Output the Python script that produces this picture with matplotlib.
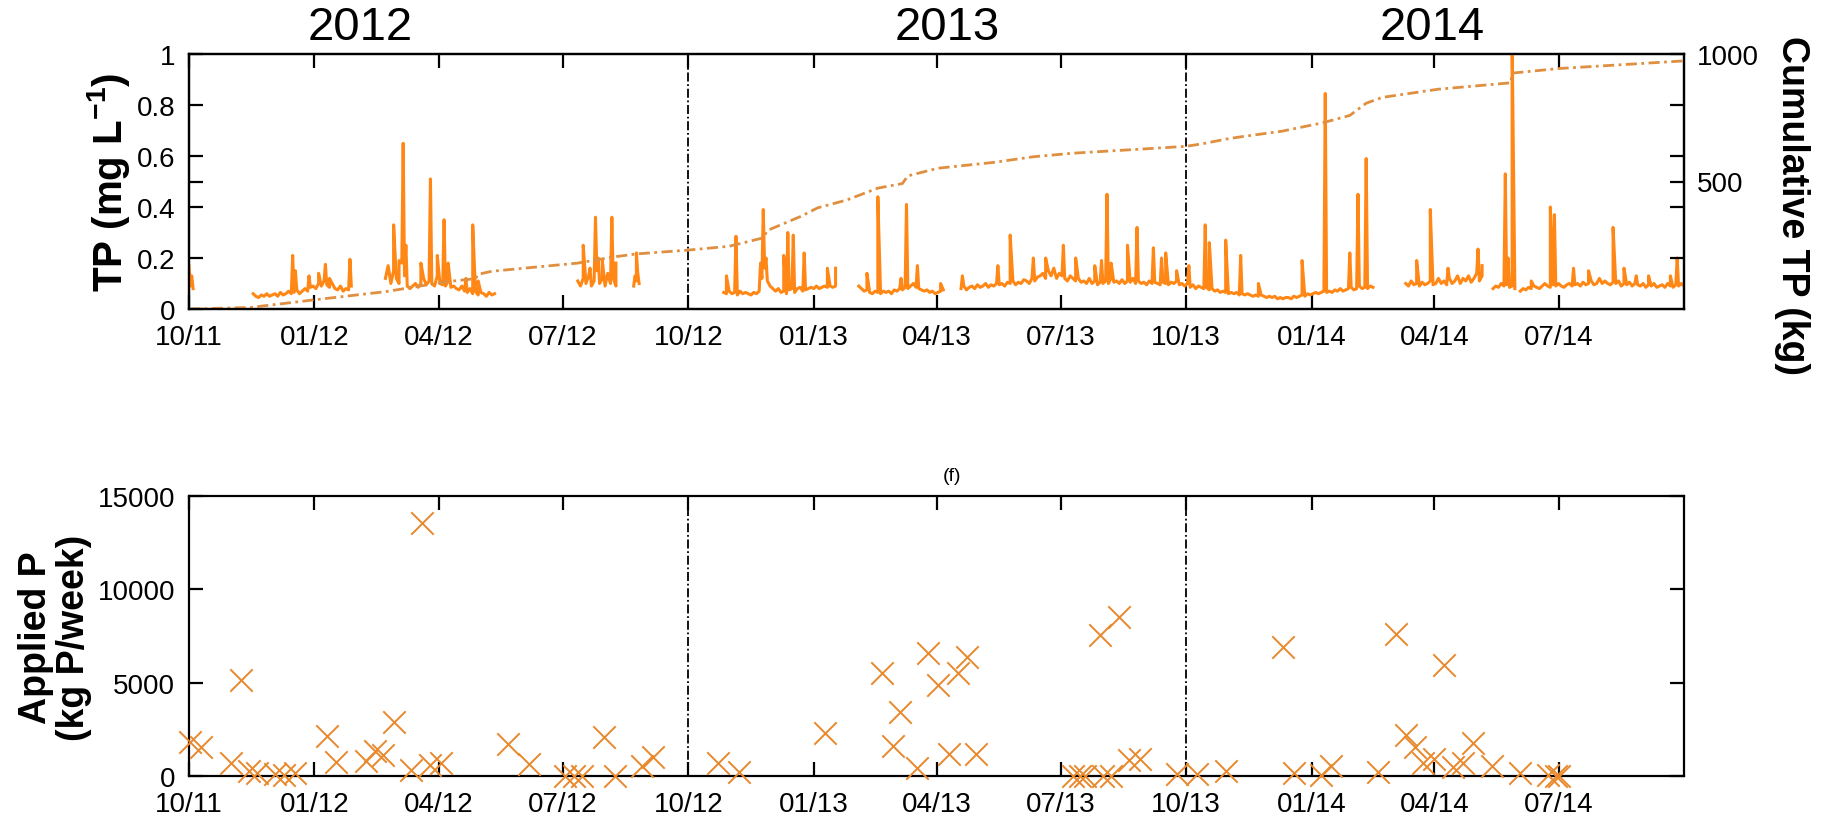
import matplotlib
matplotlib.use('Agg')
import matplotlib.pyplot as plt
import pandas as pd

plt.rcParams['font.family'] = ['Liberation Sans', 'DejaVu Sans']
plt.rcParams['mathtext.fontset'] = 'custom'
plt.rcParams['mathtext.bf'] = 'Liberation Sans:bold'
plt.rcParams['mathtext.rm'] = 'Liberation Sans:bold'

# ---------------- TP concentration (mg/L): baseline segments ----------------
tp_a = [0.17, 0.09, 0.13, 0.08]
tp_b = [0.06, 0.05, 0.045, 0.055, 0.05, 0.06, 0.05, 0.055, 0.06, 0.05,
        0.065, 0.055, 0.06, 0.07, 0.06, 0.065, 0.075, 0.06, 0.07, 0.08,
        0.07, 0.085, 0.09, 0.08, 0.1, 0.09, 0.11, 0.095, 0.085, 0.1,
        0.08, 0.075, 0.09, 0.07, 0.08, 0.075, 0.09]
tp_c = [0.12, 0.17, 0.1, 0.15, 0.12, 0.1, 0.18, 0.13, 0.09, 0.08,
        0.09, 0.1, 0.085, 0.1, 0.12, 0.095, 0.11, 0.1, 0.09, 0.13,
        0.1, 0.095, 0.09, 0.11, 0.085, 0.09, 0.08, 0.075, 0.09, 0.07,
        0.065, 0.08, 0.06, 0.07, 0.055, 0.065, 0.06, 0.05, 0.065, 0.055,
        0.06]
tp_d = [0.11, 0.09, 0.12, 0.1, 0.13, 0.09, 0.11, 0.15, 0.1, 0.12,
        0.09, 0.14, 0.1, 0.12, 0.09]
tp_e = [0.09, 0.13, 0.11, 0.14, 0.1]
tp_f = [0.065, 0.06, 0.07, 0.06, 0.065, 0.055, 0.07, 0.06, 0.065, 0.06,
        0.055, 0.065, 0.06, 0.07, 0.12, 0.16, 0.11, 0.09, 0.08, 0.07,
        0.08, 0.065, 0.07, 0.06, 0.075, 0.08, 0.065, 0.08, 0.085, 0.07,
        0.075, 0.08, 0.085, 0.08, 0.09, 0.08, 0.085, 0.09, 0.085, 0.09,
        0.085, 0.09]
tp_g = [0.09, 0.08, 0.07, 0.075, 0.065, 0.06, 0.07, 0.065, 0.06, 0.07,
        0.065, 0.07, 0.06, 0.075, 0.07, 0.08, 0.075, 0.085, 0.08, 0.09,
        0.1, 0.085, 0.08, 0.075, 0.07, 0.075, 0.065, 0.07, 0.06, 0.065,
        0.07, 0.075]
tp_h = [0.08, 0.09, 0.075, 0.085, 0.09, 0.08, 0.095, 0.085, 0.09, 0.1, 0.085, 0.095, 0.09, 0.1, 0.095,
        0.1, 0.09, 0.105, 0.1, 0.11, 0.095, 0.105, 0.1, 0.115, 0.11, 0.1, 0.12, 0.11, 0.125, 0.13,
        0.14, 0.12, 0.15, 0.13, 0.16, 0.12, 0.14, 0.13, 0.12, 0.11, 0.13, 0.12, 0.11, 0.12, 0.105,
        0.11, 0.1, 0.12, 0.1, 0.11, 0.095, 0.105, 0.1, 0.11, 0.1, 0.12, 0.105, 0.11, 0.1, 0.115,
        0.1, 0.11, 0.105, 0.12, 0.1, 0.11, 0.1, 0.105, 0.095, 0.11, 0.1, 0.105, 0.1, 0.095, 0.105,
        0.1, 0.095, 0.105, 0.1, 0.11, 0.095, 0.1, 0.09, 0.1, 0.085, 0.095, 0.08, 0.09, 0.085, 0.08,
        0.085, 0.075, 0.08, 0.07, 0.075, 0.065, 0.07, 0.065, 0.06, 0.065, 0.06, 0.065, 0.055, 0.06, 0.055,
        0.06, 0.055, 0.05, 0.055, 0.05, 0.055, 0.05, 0.045, 0.05, 0.045, 0.05, 0.04, 0.045, 0.04, 0.045,
        0.045, 0.04, 0.05, 0.045, 0.05, 0.055, 0.05, 0.06, 0.055, 0.06, 0.065, 0.06, 0.065, 0.07, 0.065,
        0.07, 0.065, 0.075, 0.07, 0.08, 0.07, 0.075, 0.08, 0.085, 0.075, 0.08, 0.09, 0.08, 0.085, 0.08,
        0.09, 0.085]
tp_i = [0.1, 0.09, 0.11, 0.095, 0.1, 0.09, 0.105, 0.095, 0.1, 0.11,
        0.095, 0.1, 0.12, 0.1, 0.11, 0.095, 0.12, 0.1, 0.11, 0.13,
        0.1, 0.12, 0.11, 0.13, 0.105, 0.12, 0.14, 0.11, 0.13]
tp_j = [0.08, 0.09, 0.085, 0.1, 0.09, 0.095, 0.085, 0.09, 0.08]
tp_k = [0.07, 0.08, 0.075, 0.085, 0.08, 0.09, 0.085, 0.08, 0.09, 0.1,
        0.09, 0.085, 0.095, 0.09, 0.1, 0.09, 0.085, 0.095, 0.1, 0.09,
        0.095, 0.1, 0.09, 0.105, 0.095, 0.1, 0.11, 0.095, 0.1, 0.12,
        0.1, 0.11, 0.1, 0.095, 0.105, 0.1, 0.11, 0.09, 0.1, 0.095,
        0.105, 0.09, 0.1, 0.095, 0.09, 0.1, 0.085, 0.095, 0.09, 0.1,
        0.085, 0.09, 0.095, 0.085, 0.1, 0.09, 0.085, 0.095, 0.09, 0.1,
        0.09]
seg_starts = ['2011-10-01', '2011-11-17', '2012-02-22', '2012-07-12', '2012-08-22',
              '2012-10-27', '2013-02-03', '2013-04-19', '2014-03-11', '2014-05-14',
              '2014-06-03']
seg_steps = [1, 2, 2, 2, 1, 2, 2, 2, 2, 2, 2]
seg_values = [tp_a, tp_b, tp_c, tp_d, tp_e, tp_f, tp_g, tp_h, tp_i, tp_j, tp_k]

# storm peaks (mg/L)
peak_dates = ['2011-12-16', '2011-12-18', '2011-12-28', '2012-01-04', '2012-01-09', '2012-01-12', '2012-01-27',
              '2012-02-28', '2012-03-03', '2012-03-06', '2012-03-08', '2012-03-19', '2012-03-26', '2012-03-31',
              '2012-04-05', '2012-04-08', '2012-04-21', '2012-04-26', '2012-04-30',
              '2012-07-16', '2012-07-21', '2012-07-25', '2012-07-27', '2012-07-30', '2012-08-06', '2012-08-09',
              '2012-08-24',
              '2012-10-29', '2012-11-05', '2012-11-23', '2012-11-25', '2012-11-27', '2012-12-10', '2012-12-13',
              '2012-12-17', '2012-12-25', '2013-01-11', '2013-01-17',
              '2013-02-09', '2013-02-17', '2013-03-06', '2013-03-10', '2013-03-18', '2013-04-04',
              '2013-04-20', '2013-05-16', '2013-05-25', '2013-06-11', '2013-06-20', '2013-07-03', '2013-07-12',
              '2013-07-26', '2013-07-31', '2013-08-04', '2013-08-07', '2013-08-19', '2013-08-26', '2013-09-07',
              '2013-09-13', '2013-09-16', '2013-09-24', '2013-10-03', '2013-10-15', '2013-10-18', '2013-10-30',
              '2013-11-10', '2013-11-23', '2013-12-25', '2014-01-11', '2014-01-29', '2014-02-04', '2014-02-10',
              '2014-03-19', '2014-03-29', '2014-04-11', '2014-05-03', '2014-05-06',
              '2014-05-23', '2014-05-25', '2014-05-28',
              '2014-06-11', '2014-06-25', '2014-06-28', '2014-07-12', '2014-07-23', '2014-08-10', '2014-08-18',
              '2014-08-27', '2014-09-05', '2014-09-21', '2014-09-26']
peak_values = [0.21, 0.15, 0.13, 0.14, 0.175, 0.12, 0.195,
               0.33, 0.19, 0.65, 0.25, 0.18, 0.51, 0.21,
               0.35, 0.18, 0.12, 0.33, 0.11,
               0.25, 0.16, 0.36, 0.2, 0.19, 0.36, 0.18,
               0.22,
               0.13, 0.285, 0.18, 0.39, 0.2, 0.21, 0.30,
               0.29, 0.22, 0.16, 0.16,
               0.14, 0.44, 0.12, 0.41, 0.17, 0.1,
               0.13, 0.17, 0.29, 0.2, 0.2, 0.25, 0.2,
               0.17, 0.19, 0.45, 0.18, 0.25, 0.32, 0.24,
               0.2, 0.22, 0.15, 0.17, 0.33, 0.26, 0.27,
               0.21, 0.1, 0.19, 0.845, 0.22, 0.45, 0.59,
               0.19, 0.39, 0.16, 0.235, 0.17,
               0.53, 0.2, 1.05,
               0.11, 0.40, 0.37, 0.16, 0.15, 0.32, 0.16,
               0.13, 0.13, 0.13, 0.2]

# ---------------- cumulative TP (kg) ----------------
cum_dates = ['2011-10-01', '2011-11-15', '2012-01-01', '2012-02-22', '2012-04-07', '2012-04-28',
             '2012-04-30', '2012-05-10', '2012-07-12', '2012-08-07', '2012-08-24', '2012-10-01',
             '2012-10-31', '2012-11-25', '2012-11-28', '2012-12-22', '2013-01-04', '2013-01-25',
             '2013-02-17', '2013-03-07', '2013-03-11', '2013-04-02', '2013-05-13', '2013-06-11',
             '2013-07-10', '2013-09-04', '2013-10-01', '2013-10-13', '2013-10-31', '2013-11-11',
             '2013-12-10', '2014-01-09', '2014-01-29', '2014-02-10', '2014-02-22', '2014-04-04',
             '2014-05-27', '2014-05-28', '2014-07-01', '2014-10-01']
cum_values = [0, 6, 36, 68, 107, 119,
              136, 148, 180, 204, 216, 231,
              246, 279, 308, 362, 397, 427,
              474, 492, 522, 552, 575, 597,
              611, 629, 638, 648, 667, 676,
              697, 730, 759, 807, 830, 862,
              887, 925, 943, 973]

# ---------------- applied P (kg P/week) ----------------
app_dates = ['2011-10-02', '2011-10-10', '2011-11-01', '2011-11-08', '2011-11-14', '2011-11-20',
             '2011-12-03', '2011-12-10', '2011-12-18', '2012-01-10', '2012-01-17', '2012-02-08',
             '2012-02-14', '2012-02-20', '2012-02-28', '2012-03-12', '2012-03-20', '2012-03-26',
             '2012-04-03', '2012-05-22', '2012-06-06', '2012-07-03', '2012-07-09', '2012-07-15',
             '2012-07-31', '2012-08-08', '2012-08-28', '2012-09-05',
             '2012-10-23', '2012-11-07', '2013-01-09', '2013-02-20', '2013-02-28', '2013-03-05',
             '2013-03-18', '2013-03-26', '2013-04-02', '2013-04-10', '2013-04-17', '2013-04-23',
             '2013-04-30', '2013-07-10', '2013-07-15', '2013-07-19', '2013-07-30', '2013-08-01',
             '2013-08-07', '2013-08-13', '2013-08-20', '2013-08-28', '2013-09-24', '2013-10-09',
             '2013-10-30', '2013-12-11', '2013-12-19', '2014-01-08', '2014-01-15', '2014-02-19',
             '2014-03-04', '2014-03-11', '2014-03-18', '2014-03-24', '2014-04-01', '2014-04-08',
             '2014-04-15', '2014-04-22', '2014-04-29', '2014-05-13', '2014-06-03', '2014-06-23',
             '2014-06-29', '2014-07-01']
app_values = [1810, 1540, 710, 5150, 270, 180,
              90, 30, 180, 2130, 750, 800,
              1330, 1150, 2890, 300, 13580, 570,
              710, 1690, 620, 20, 20, 20,
              2080, 20, 530, 1030,
              710, 210, 2310, 5540, 1630, 3430,
              440, 6570, 4880, 1190, 5500, 6360,
              1190, 20, 20, 20, 7580, 20,
              20, 8520, 850, 890, 90, 90,
              270, 6890, 140, 40, 530, 210,
              7630, 2180, 1560, 710, 890, 5950,
              480, 710, 1780, 530, 180, 40,
              20, 0]

year_labels = ['2012', '2013', '2014']
divider_dates = ['2012-10-01', '2013-10-01']

TP_COLOR = '#FF8716'
CUM_COLOR = '#E08F40'
APP_COLOR = '#E8892B'

fig = plt.figure(figsize=(18.25, 8.20), dpi=100)
L, R = 189 / 1825, 1684 / 1825
ax1 = fig.add_axes([L, 1 - 310 / 820, R - L, (310 - 55) / 820])
ax3 = fig.add_axes([L, 1 - 777 / 820, R - L, (777 - 497) / 820])

x0, x1 = pd.Timestamp('2011-10-01'), pd.Timestamp('2014-10-01')
xticks = pd.date_range('2011-10-01', '2014-07-01', freq='3MS')

peaks = pd.Series(peak_values, index=pd.to_datetime(peak_dates))
for start, step, vals in zip(seg_starts, seg_steps, seg_values):
    d = pd.date_range(start, periods=len(vals), freq=f'{step}D')
    s = pd.Series(vals, index=d)
    sp = peaks[(peaks.index >= d[0]) & (peaks.index <= d[-1])]
    s = pd.concat([s, sp]).sort_index(kind='stable')
    ax1.plot(s.index, s.values, color=TP_COLOR, lw=2.2, zorder=3)

ax2 = ax1.twinx()
ax2.plot(pd.to_datetime(cum_dates), cum_values, color=CUM_COLOR, lw=2.0,
         linestyle=(0, (4, 1.6, 1, 1.6)), zorder=2)

ax3.scatter(pd.to_datetime(app_dates), app_values, marker='x', s=260,
            color=APP_COLOR, linewidths=1.4, zorder=3, clip_on=False)

for ax in (ax1, ax3):
    for dd in divider_dates:
        ax.axvline(pd.Timestamp(dd), color='black', lw=1.3, linestyle=(0, (5, 1.5, 1, 1.5)), zorder=1)
    ax.set_xlim(x0, x1)
    ax.set_xticks(xticks)
    ax.set_xticklabels([t.strftime('%m/%y') for t in xticks])
    ax.tick_params(axis='x', direction='in', top=True, length=10, width=1.6,
                   labelsize=20, pad=11)
    for sp_ in ax.spines.values():
        sp_.set_linewidth(1.6)

ax1.set_ylim(0, 1)
ax1.set_yticks([0, 0.2, 0.4, 0.6, 0.8, 1])
ax1.set_yticklabels(['0', '0.2', '0.4', '0.6', '0.8', '1'])
ax1.set_yticks([0.5], minor=True)
ax1.tick_params(axis='y', which='both', direction='in', length=10, width=1.6,
                labelsize=20, pad=10)
ax1.tick_params(axis='x', which='minor', bottom=False, top=False)

ax2.set_xlim(x0, x1)
ax2.set_ylim(0, 1000)
ax2.set_yticks([200, 400, 500, 600, 800, 1000])
ax2.set_yticklabels(['', '', '500', '', '', '1000'])
ax2.tick_params(axis='y', direction='in', length=10, width=1.6, labelsize=20, pad=9)
for sp_ in ax2.spines.values():
    sp_.set_linewidth(1.6)

ax3.set_ylim(0, 15000)
ax3.set_yticks([0, 5000, 10000, 15000])
ax3.set_yticklabels(['0', '5000', '10000', '15000'])
ax3.tick_params(axis='y', direction='in', right=True, length=10, width=1.6,
                labelsize=20, pad=10)

fig.text(108 / 1825, 1 - 182 / 820, 'TP (mg L$^{\\mathbf{-1}}$)', rotation=90,
         fontsize=29, fontweight='bold', ha='center', va='center')
fig.text(1792 / 1825, 1 - 205 / 820, 'Cumulative TP (kg)', rotation=-90,
         fontsize=27, fontweight='bold', ha='center', va='center')
fig.text(55 / 1825, 1 - 638 / 820, 'Applied P\n(kg P/week)', rotation=90,
         fontsize=27, fontweight='bold', ha='center', va='center',
         multialignment='center', linespacing=1.1)
for lbl, xp in zip(year_labels, [360, 947, 1432]):
    fig.text(xp / 1825, 1 - 28 / 820, lbl, fontsize=34, ha='center', va='center')
fig.text(952 / 1825, 1 - 477 / 820, '(f)', fontsize=14, ha='center', va='center')

fig.savefig('out.png', dpi=100)
